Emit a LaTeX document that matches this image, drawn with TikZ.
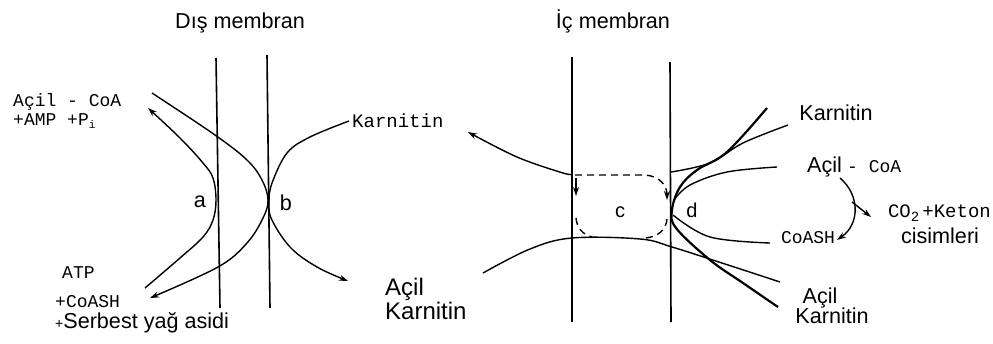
\documentclass[tikz,border=0pt]{standalone}
\usepackage{fontspec}
\setmainfont{Liberation Sans}
\setmonofont{Liberation Mono}
\usetikzlibrary{arrows.meta}
\begin{document}
\begin{tikzpicture}[x=1pt,y=-1pt,
  mem/.style={line width=1.6pt},
  crv/.style={line width=1.4pt},
  thk/.style={line width=2.2pt},
  dsh/.style={line width=1.4pt, dash pattern=on 7pt off 5pt},
  lbl/.style={font=\fontsize{21.6}{22}\selectfont, inner sep=0pt},
  big/.style={font=\fontsize{24}{25}\selectfont, inner sep=0pt},
  tw/.style={font=\fontsize{18}{20}\ttfamily, inner sep=0pt},
  arr/.style={-{Stealth[length=9pt,width=6pt]}},
]
\useasboundingbox (0,0) rectangle (993,343);
\fill[white] (0,0) rectangle (993,343);

% titles
\node[lbl, anchor=base] (dis) at (240,28) {Dış membran};
\node[lbl, anchor=base] (ic) at (613,28) {İç membran};

% membranes
\coordinate (l1t) at (216,58);  \coordinate (l1b) at (220,308);
\coordinate (l2t) at (267,55);  \coordinate (l2b) at (270,308);
\coordinate (l3t) at (572,57);  \coordinate (l3b) at (572,322);
\coordinate (l4t) at (670,62);  \coordinate (l4b) at (671,322);
\draw[mem] (l1t) -- (l1b);
\draw[mem] (l2t) -- (l2b);
\draw[mem] (l3t) -- (l3b);
\draw[mem] (l4t) -- (l4b);

% left labels
\node[tw, anchor=base west] (acoa) at (13,106) {Açil - CoA};
\node[tw, anchor=base west] (amp) at (13,125) {+AMP +P\raisebox{-3pt}{\fontsize{11}{11}\selectfont i}};
\node[tw, anchor=base west] (atp) at (62,278) {ATP};
\node[tw, anchor=base west] (coash) at (55,307) {+CoASH};
\node[lbl, anchor=base west] (fa) at (55,328) {{\fontsize{14}{14}\selectfont +}Serbest yağ asidi};
\node[lbl, anchor=base] (a) at (200,207) {a};
\node[lbl, anchor=base] (b) at (286,210) {b};

% curve a
\draw[crv, arr] plot[smooth, tension=0.6] coordinates {(145,288) (180,258) (203,237) (213,220) (216,200) (213,178) (203,163) (180,138) (148,108)};
% curve b (left)
\draw[crv, arr] plot[smooth, tension=0.6] coordinates {(152,93) (215,135) (247,160) (262,180) (268,200) (263,218) (247,243) (218,267) (150,298)};
% curve b (right)
\node[tw, font=\fontsize{19}{20}\ttfamily, anchor=base west] (kmid) at (352,127) {Karnitin};
\draw[crv] plot[smooth, tension=0.6] coordinates {(269,200) (272,183) (287,153) (310,137) (349,121)};
\draw[crv, arr] plot[smooth, tension=0.6] coordinates {(269,200) (271,218) (290,247) (317,267) (348,281)};

% Acil Karnitin (middle)
\node[big, anchor=base west] (ak1) at (385,295) {Açil};
\node[big, anchor=base west] (ak2) at (385,319) {Karnitin};

% top carnitine line
\draw[crv, arr] plot[smooth, tension=0.6] coordinates {(572,174) (563,173) (517,157) (468,132)};
\draw[crv] plot[smooth, tension=0.6] coordinates {(671,172) (710,163) (743,143) (788,125)};
% bottom acyl-carnitine line
\draw[crv] plot[smooth, tension=0.6] coordinates {(483,273) (530,249) (572,238) (640,239) (672,247) (725,264) (780,282)};

% enzyme c (dashed)
\draw[dsh, arr] (575,175) -- (645,175) .. controls (660,176) and (667,186) .. (667,200);
\draw[dsh] (667,219) .. controls (666,230) and (658,237) .. (645,238);
\draw[crv, arr] (576,178) -- (576,196);
\draw[dsh] (576,218) .. controls (577,228) and (582,234) .. (592,237);
\node[lbl, font=\fontsize{20}{20}\selectfont, anchor=base] (c) at (620,217) {c};

% enzyme d
\draw[thk] plot[smooth, tension=0.6] coordinates {(767,108) (727,152) (697,170) (680,187) (672,210) (676,228) (710,260) (743,283) (778,307)};
\node[lbl, font=\fontsize{20}{20}\selectfont, anchor=base] (d) at (692,217) {d};
\draw[crv] plot[smooth, tension=0.6] coordinates {(674,200) (690,185) (727,172) (777,167)};
\draw[crv] plot[smooth, tension=0.6] coordinates {(673,215) (710,237) (770,243)};

% right labels
\node[lbl, anchor=base] (kr) at (836,120) {Karnitin};
\node[lbl, anchor=base west] (acr) at (807,172) {Açil};
\node[tw, anchor=base west] (coar) at (847,172) {- CoA};
\node[tw, font=\fontsize{19}{20}\ttfamily, anchor=base east] (co2) at (991,217) {CO\raisebox{-4pt}{\fontsize{14}{14}\selectfont 2}\,+Keton};
\node[lbl, anchor=base] (cis) at (940,243) {cisimleri};
\node[tw, anchor=base] (coashr) at (808,243) {CoASH};
\node[lbl, anchor=base] (akr1) at (820,303) {Açil};
\node[lbl, anchor=base] (akr2) at (832,323) {Karnitin};

% beta-oxidation arrow
\draw[crv, arr] (840,178) .. controls (860,195) and (860,224) .. (837,240);
\coordinate (br) at (852,202);
\draw[crv, arr] (br) -- (871,217);
\end{tikzpicture}
\end{document}
